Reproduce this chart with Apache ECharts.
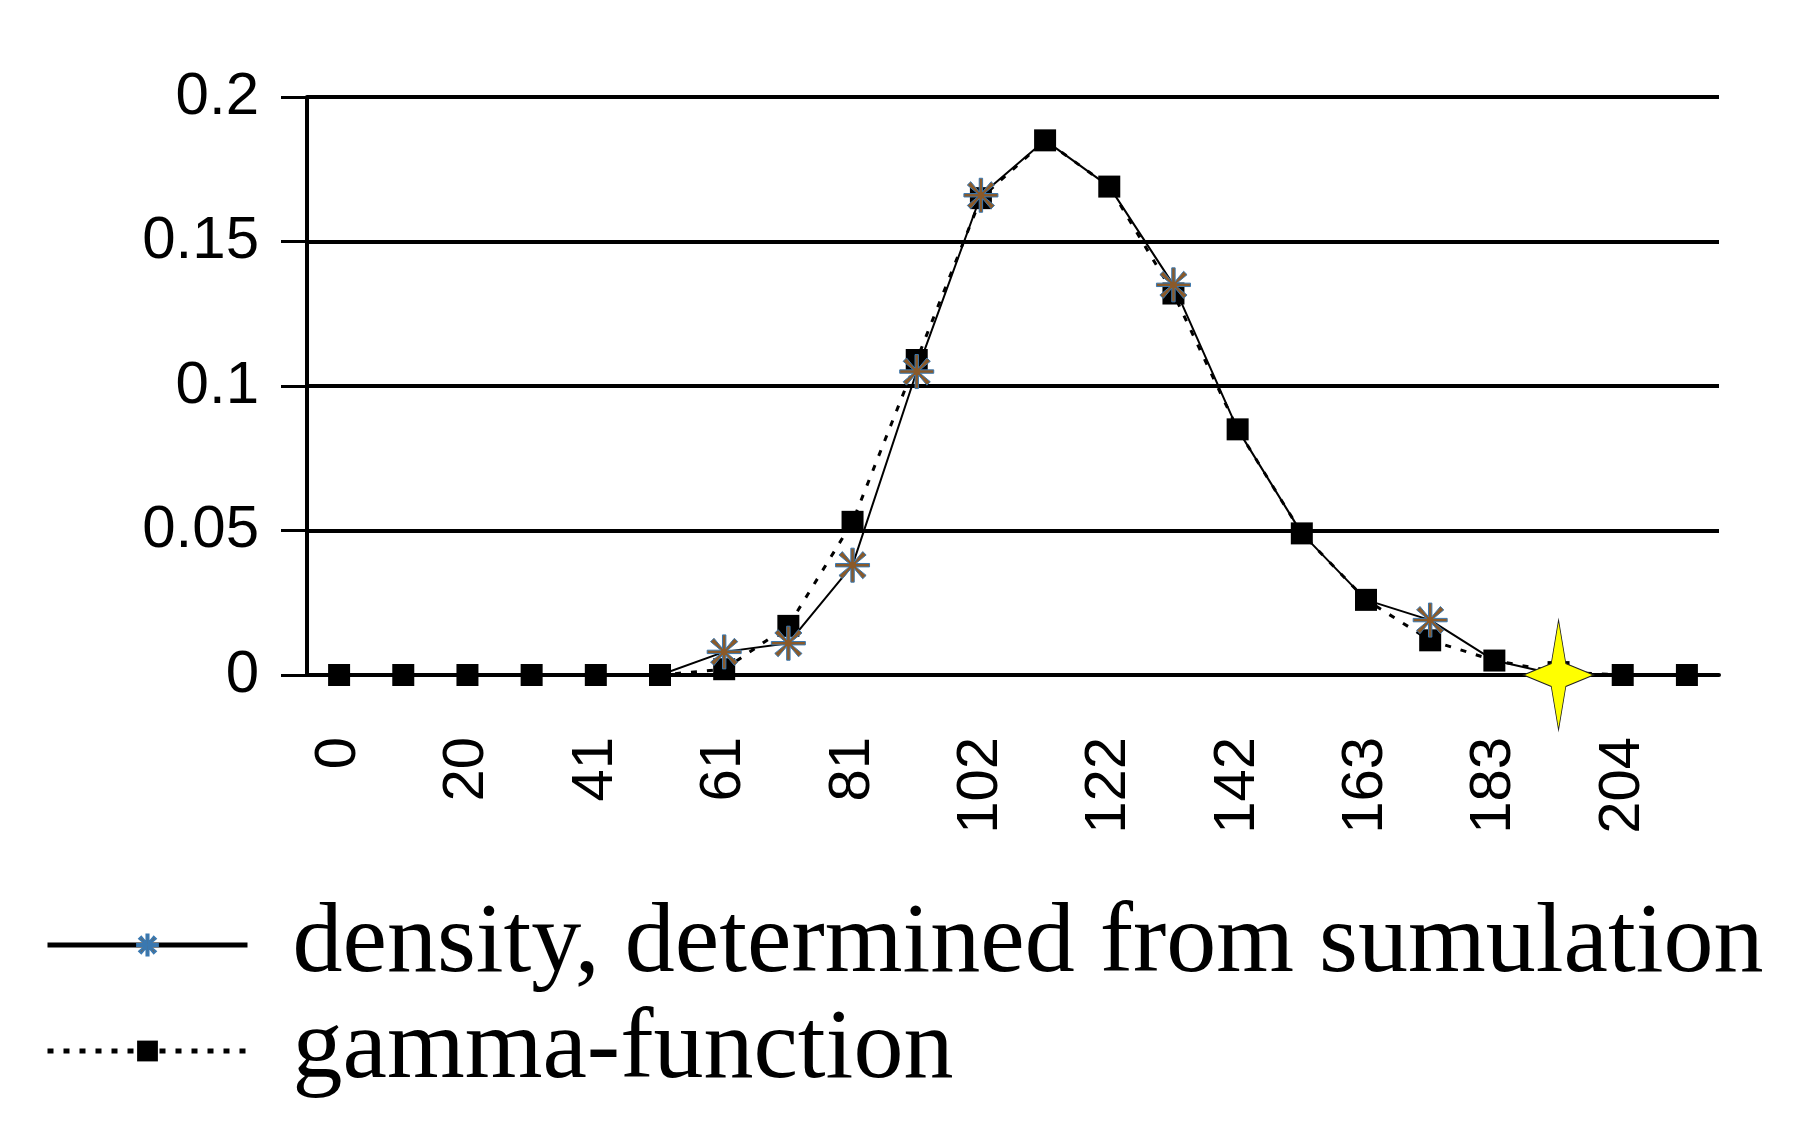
<!doctype html>
<html>
<head>
<meta charset="utf-8">
<title>density</title>
<script src="https://cdn.jsdelivr.net/npm/echarts@6/dist/echarts.min.js"></script>
<style>html,body{margin:0;background:#fff}</style>
</head>
<body>
<div id="main" style="width:1814px;height:1135px"></div>
<script>
var cats = ['0','10','20','31','41','51','61','71','81','92','102','112','122','133','142','153','163','173','183','194','204','214'];
var gamma = [0,0,0,0,0,0,0.002,0.017,0.053,0.109,0.165,0.185,0.169,0.132,0.085,0.049,0.026,0.012,0.005,0.001,0,0];
var density = [0,0,0,0,0,0,0.008,0.011,0.038,0.105,0.166,0.185,0.169,0.135,0.085,0.049,0.026,0.019,0.005,0,0,0];
var yTicks = [0, 0.05, 0.1, 0.15, 0.2];

var asterisk = 'path://M-1,-10L1,-10L1,-2L6,-8L8,-6L2,-1L10,-1L10,1L2,1L8,6L6,8L1,2L1,10L-1,10L-1,2L-6,8L-8,6L-2,1L-10,1L-10,-1L-2,-1L-8,-6L-6,-8L-1,-2Z';
var star4 = 'path://M0,-12L2.5,-2.5L12,0L2.5,2.5L0,12L-2.5,2.5L-12,0L-2.5,-2.5Z';

var densityData = density.map(function (v, i) {
  if (i === 19) return {value: v, symbol: star4, symbolSize: [70, 110], itemStyle: {color: '#ffff00', borderColor: '#222', borderWidth: 1}};
  if (i < 6 || i > 19 || i === 11 || i === 12 || i === 14 || i === 15 || i === 16 || i === 18) return {value: v, symbolSize: 0};
  return v;
});

var myChart = echarts.init(document.getElementById('main'));
myChart.setOption({
  animation: false,
  grid: {left: 307, right: 95, top: 97, height: 578},
  legend: {
    orient: 'vertical', left: 40, top: 890, itemGap: 6,
    itemWidth: 200, itemHeight: 26,
    textStyle: {fontFamily: 'Liberation Serif', fontSize: 100, color: '#000', padding: [0, 0, 0, 40]},
    data: [
      {name: 'density, determined from sumulation', lineStyle: {width: 5}},
      {name: 'gamma-function', lineStyle: {width: 5}}
    ]
  },
  xAxis: {
    type: 'category', data: cats, boundaryGap: true,
    axisLine: {lineStyle: {color: '#000', width: 4}},
    axisTick: {interval: 0, length: 28, lineStyle: {color: '#000', width: 3}},
    axisLabel: {interval: 1, rotate: 90, margin: 62, color: '#000', fontFamily: 'Liberation Sans', fontSize: 58}
  },
  yAxis: {
    type: 'value', min: 0, max: 0.2, interval: 0.05,
    axisLine: {show: true, lineStyle: {color: '#000', width: 4}},
    axisTick: {show: true, length: 26, lineStyle: {color: '#000', width: 3}},
    splitLine: {lineStyle: {color: '#000', width: 4}},
    axisLabel: {margin: 48, color: '#000', fontFamily: 'Liberation Sans', fontSize: 60,
      formatter: function (v) { return String(+v.toFixed(2)); }}
  },
  series: [
    {
      name: 'gamma-function', type: 'line', data: gamma,
      symbol: 'rect', symbolSize: 22, z: 2,
      lineStyle: {color: '#000', width: 3, type: [6, 10]},
      itemStyle: {color: '#000'}
    },
    {
      name: 'density, determined from sumulation', type: 'line', data: densityData,
      symbol: asterisk, symbolSize: 34, z: 3,
      lineStyle: {color: '#000', width: 2},
      itemStyle: {color: '#8a5a2a', borderColor: '#3a78b0', borderWidth: 1}
    }
  ]
});
</script>
</body>
</html>
